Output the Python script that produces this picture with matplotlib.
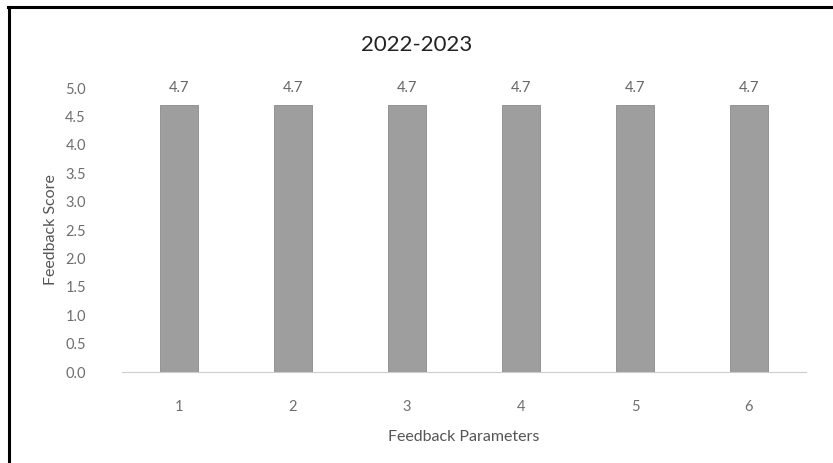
import matplotlib.pyplot as plt
from matplotlib.lines import Line2D

# data
parameters = ["1", "2", "3", "4", "5", "6"]
scores = [4.7, 4.7, 4.7, 4.7, 4.7, 4.7]
score_labels = ["4.7", "4.7", "4.7", "4.7", "4.7", "4.7"]
y_ticks = [0.0, 0.5, 1.0, 1.5, 2.0, 2.5, 3.0, 3.5, 4.0, 4.5, 5.0]

plt.rcParams["font.family"] = ["Lato", "DejaVu Sans"]

fig = plt.figure(figsize=(8.33, 4.63), dpi=100)
ax = fig.add_axes([0.1465, 0.1965, 0.821, 0.6134])

x = range(len(parameters))
bars = ax.bar(x, scores, width=0.33, color="#9e9e9e", edgecolor="#8a8a8a",
              linewidth=0.6, zorder=2)

for bar, lab in zip(bars, score_labels):
    ax.text(bar.get_x() + bar.get_width() / 2, bar.get_height() + 0.18, lab,
            ha="center", va="bottom", fontsize=10.5, color="#666666")

ax.set_xlim(-0.5, len(parameters) - 0.5)
ax.set_ylim(0, 5.0)
ax.set_xticks(list(x))
ax.set_xticklabels(parameters)
ax.set_yticks(y_ticks)
ax.set_yticklabels([f"{t:.1f}" for t in y_ticks])
ax.tick_params(axis="both", length=0, labelsize=10.5, labelcolor="#6e6e6e")
ax.tick_params(axis="x", pad=20)
ax.tick_params(axis="y", pad=26)

for side in ["top", "right", "left"]:
    ax.spines[side].set_visible(False)
ax.spines["bottom"].set_color("#cccccc")
ax.spines["bottom"].set_linestyle((0, (2, 1)))

ax.set_xlabel("Feedback Parameters", fontsize=11.5, color="#555555", labelpad=12)
ax.set_ylabel("Feedback Score", fontsize=11.5, color="#555555", labelpad=5)

fig.text(0.5, 0.902, "2022-2023", ha="center", va="center", fontsize=16,
         color="#222222")

# scanned frame: top and left edges only
fig.add_artist(Line2D([0.0095, 1.0], [0.984, 0.984], transform=fig.transFigure,
                      color="black", linewidth=2.2))
fig.add_artist(Line2D([0.0105, 0.0105], [0.0, 0.984], transform=fig.transFigure,
                      color="black", linewidth=2.2))

fig.savefig("out.png", dpi=100)
